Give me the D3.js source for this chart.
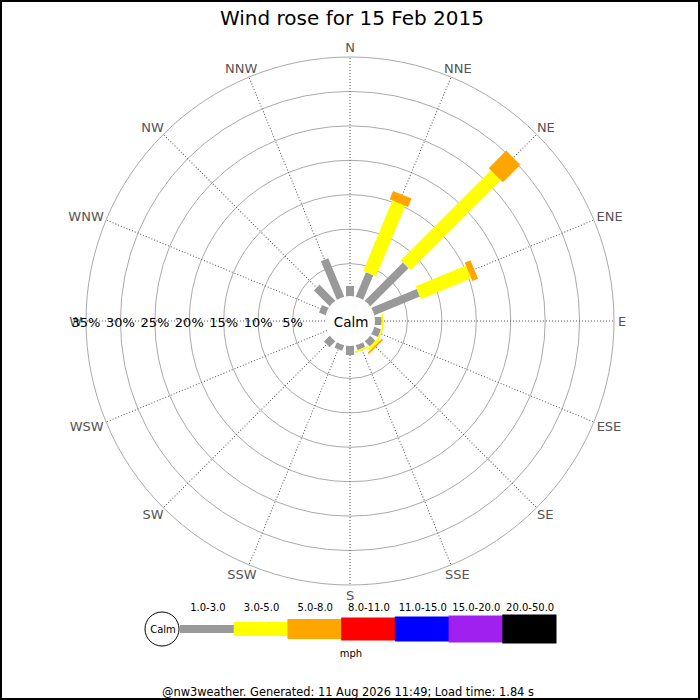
<!DOCTYPE html>
<html>
<head>
<meta charset="utf-8">
<script src="https://cdn.jsdelivr.net/npm/d3@7"></script>
<style>
  body { margin: 0; background: #fff; }
  text { font-family: "DejaVu Sans", sans-serif; }
</style>
</head>
<body>
<div class="graph"></div>
<script>
"use strict";

// directions, clockwise from north
var directions = ["N", "NNE", "NE", "ENE", "E", "ESE", "SE", "SSE",
                  "S", "SSW", "SW", "WSW", "W", "WNW", "NW", "NNW"];

// speed bands (mph) and their share of the day, in percent
var bandLabels = ["1.0-3.0", "3.0-5.0", "5.0-8.0", "8.0-11.0", "11.0-15.0", "15.0-20.0", "20.0-50.0"];
var band1 = [1.75, 4.1, 8.1, 7.4, 1.25, 1.3, 1.3, 1.0, 1.6, 1.1, 1.45, 0, 0, 1.3, 3.5, 6.3];
var band2 = [0, 11.1, 18.5, 7.9, 0.25, 0.25, 0.45, 0.25, 0, 0, 0, 0, 0, 0, 0, 0];
var band3 = [0, 1.3, 3.6, 0.9, 0, 0, 0.25, 0, 0, 0, 0, 0, 0, 0, 0, 0];

var rings = [5, 10, 15, 20, 25, 30, 35];

var width = 700,
    height = 700,
    cx = 350,
    cy = 321;

var bandColors = ["#999999", "#ffff00", "#ffa500", "#ff0000", "#0000ff", "#a020f0", "#000000"];
var bandWidths = [8, 14, 20, 23, 25, 27, 29];
var series = [band1, band2, band3];

var r = d3.scaleLinear()
    .domain([0, 35])
    .range([23, 264]);

var svg = d3.select('.graph').append('svg')
    .attr('width', width)
    .attr('height', height);

svg.append('rect')
    .attr('x', 1).attr('y', 1)
    .attr('width', width - 2).attr('height', height - 2)
    .attr('fill', '#fff')
    .attr('stroke', '#000')
    .attr('stroke-width', 2);

svg.append('text')
    .attr('x', cx + 2)
    .attr('y', 25)
    .attr('text-anchor', 'middle')
    .attr('font-size', '20px')
    .attr('fill', '#000')
    .text('Wind rose for 15 Feb 2015');

var rose = svg.append('g')
    .attr('transform', 'translate(' + cx + ',' + cy + ')');

// grid circles
rose.selectAll('circle.ring')
    .data(rings)
    .enter().append('circle')
    .attr('class', 'ring')
    .attr('r', function(d) { return r(d) })
    .attr('fill', 'none')
    .attr('stroke', '#aaa')
    .attr('stroke-width', 1);

// radial lines
rose.selectAll('line.spoke')
    .data(directions)
    .enter().append('line')
    .attr('class', 'spoke')
    .attr('transform', function(d, i) { return 'rotate(' + (i * 22.5) + ')' })
    .attr('x1', 0).attr('x2', 0)
    .attr('y1', -25).attr('y2', -r(35))
    .attr('stroke', '#555')
    .attr('stroke-width', 1)
    .attr('stroke-dasharray', '1,2');

// bars, stacked outwards per direction
directions.forEach(function(dir, i) {
    var start = 0;
    var g = rose.append('g')
        .attr('transform', 'rotate(' + (i * 22.5) + ')');
    series.forEach(function(values, b) {
        var v = values[i];
        if (v <= 0) return;
        var r0 = r(start), r1 = r(start + v);
        g.append('rect')
            .attr('x', -bandWidths[b] / 2)
            .attr('y', -r1)
            .attr('width', bandWidths[b])
            .attr('height', Math.max(r1 - r0, 1.5))
            .attr('fill', bandColors[b]);
        start += v;
    });
});

// calm circle
rose.append('circle')
    .attr('r', 25)
    .attr('fill', '#fff');

rose.append('text')
    .attr('x', 1)
    .attr('y', 1)
    .attr('dy', '0.35em')
    .attr('text-anchor', 'middle')
    .attr('font-size', '13.5px')
    .attr('fill', '#000')
    .text('Calm');

// compass labels
rose.selectAll('text.dir')
    .data(directions)
    .enter().append('text')
    .attr('class', 'dir')
    .attr('font-size', '13px')
    .attr('fill', '#555')
    .attr('text-anchor', 'middle')
    .attr('dy', '0.36em')
    .text(function(d) { return d })
    .each(function(d, i) {
        var a = i * 22.5 * Math.PI / 180,
            s = Math.sin(a), c = Math.cos(a),
            w = this.getComputedTextLength(),
            rr = r(35) + 4;
        d3.select(this)
            .attr('x', rr * s + (w / 2) * s)
            .attr('y', -rr * c - 6 * c);
    });

// percentage labels along the west axis
rose.selectAll('text.pct')
    .data(rings)
    .enter().append('text')
    .attr('class', 'pct')
    .attr('x', function(d) { return -r(d) })
    .attr('y', 1)
    .attr('dy', '0.35em')
    .attr('text-anchor', 'middle')
    .attr('font-size', '13px')
    .attr('fill', '#000')
    .text(function(d) { return d + '%' });

// legend
var lx = d3.scaleLinear()
    .domain([0, bandLabels.length])
    .range([180, 556]);
var ly = 629;

var legend = svg.append('g');

legend.selectAll('rect')
    .data(bandLabels)
    .enter().append('rect')
    .attr('x', function(d, i) { return lx(i) })
    .attr('y', function(d, i) { return ly - bandWidths[i] / 2 })
    .attr('width', lx(1) - lx(0) + 0.5)
    .attr('height', function(d, i) { return bandWidths[i] })
    .attr('fill', function(d, i) { return bandColors[i] });

legend.selectAll('text.band')
    .data(bandLabels)
    .enter().append('text')
    .attr('class', 'band')
    .attr('x', function(d, i) { return (lx(i) + lx(i + 1)) / 2 + 1 })
    .attr('y', 611)
    .attr('text-anchor', 'middle')
    .attr('font-size', '10px')
    .attr('fill', '#000')
    .text(function(d) { return d });

legend.append('circle')
    .attr('cx', 162)
    .attr('cy', ly)
    .attr('r', 17)
    .attr('fill', '#fff')
    .attr('stroke', '#000')
    .attr('stroke-width', 1);

legend.append('text')
    .attr('x', 163)
    .attr('y', ly)
    .attr('dy', '0.35em')
    .attr('text-anchor', 'middle')
    .attr('font-size', '10px')
    .attr('fill', '#000')
    .text('Calm');

legend.append('text')
    .attr('x', 351)
    .attr('y', 657)
    .attr('text-anchor', 'middle')
    .attr('font-size', '10px')
    .attr('fill', '#000')
    .text('mph');

svg.append('text')
    .attr('x', 348)
    .attr('y', 696)
    .attr('text-anchor', 'middle')
    .attr('font-size', '11.4px')
    .attr('fill', '#000')
    .text('@nw3weather. Generated: 11 Aug 2026 11:49; Load time: 1.84 s');
</script>
</body>
</html>
